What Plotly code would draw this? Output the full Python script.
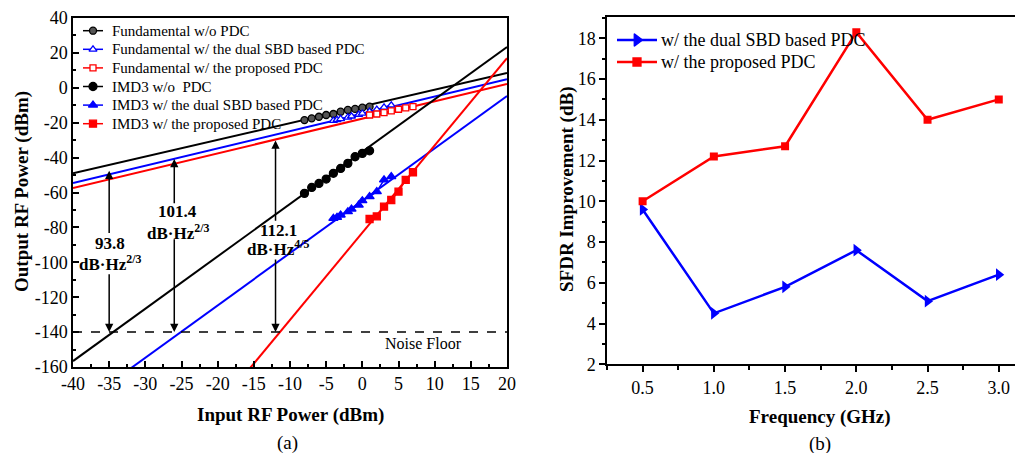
import plotly.graph_objects as go
import numpy as np

# ---------------- data: panel (a) ----------------
fund_wo_x = [-8, -7, -6, -5, -4, -3, -2, -1, 0, 1]
fund_wo_y = [-18.5, -17.5, -16.6, -15.6, -15.0, -13.7, -12.7, -12.1, -11.4, -10.8]
imd_wo_x = [-8, -7, -6, -5, -4, -3, -2, -1, 0, 1]
imd_wo_y = [-60.5, -57.1, -54.8, -52.3, -49.0, -46.2, -43.3, -39.5, -37.6, -36.1]

fund_sbd_x = [-4, -3.5, -3, -2, -1.5, -0.5, 0, 1, 2, 3, 4]
fund_sbd_y = [-18.8, -18.3, -17.8, -16.9, -16.3, -15.3, -14.7, -13.6, -12.5, -11.2, -10.0]
imd_sbd_x = [-4, -3.5, -3, -2, -1.5, -0.5, 0, 1, 2, 3, 4]
imd_sbd_y = [-74.8, -74.2, -72.9, -71.0, -69.5, -67.2, -64.7, -62.4, -59.5, -52.8, -50.9]

fund_prop_x = [1, 2, 3, 4, 5, 6, 7]
fund_prop_y = [-15.6, -15.0, -14.2, -13.2, -12.3, -11.5, -10.8]
imd_prop_x = [1, 2, 3, 4, 5, 6, 7]
imd_prop_y = [-75.2, -73.7, -68.1, -64.3, -59.5, -52.8, -48.4]

# fitted lines: (slope, intercept)
fit_fund_wo = (0.958, -10.7)
fit_fund_sbd = (0.993, -14.9)
fit_fund_prop = (0.993, -17.7)
fit_imd_wo = (3.0, -36.6)
fit_imd_sbd = (3.0, -64.7)
fit_imd_prop = (5.0, -83.0)
fit_x = [-40, 20]
noise_floor = -140

sfdr_labels = ["93.8", "101.4", "112.1"]
sfdr_units = ["dB·Hz<sup>2/3</sup>", "dB·Hz<sup>2/3</sup>", "dB·Hz<sup>4/5</sup>"]

xa_ticks = [-40, -35, -30, -25, -20, -15, -10, -5, 0, 5, 10, 15, 20]
xa_text = ["-40", "-35", "-30", "-25", "-20", "-15", "-10", "-5", "0", "5", "10", "15", "20"]
ya_ticks = [40, 20, 0, -20, -40, -60, -80, -100, -120, -140, -160]
ya_text = ["40", "20", "0", "-20", "-40", "-60", "-80", "-100", "-120", "-140", "-160"]

names_a = ["Fundamental w/o PDC", "Fundamental w/ the dual SBD based PDC",
           "Fundamental w/ the proposed PDC", "IMD3 w/o  PDC",
           "IMD3 w/ the dual SBD based PDC", "IMD3 w/ the proposed PDC"]

# ---------------- data: panel (b) ----------------
freq = [0.5, 1.0, 1.5, 2.0, 2.5, 3.0]
sfdr_sbd = [9.6, 4.5, 5.8, 7.6, 5.1, 6.4]
sfdr_prop = [10.0, 12.2, 12.7, 18.3, 14.0, 15.0]
names_b = ["w/ the dual SBD based PDC", "w/ the proposed PDC"]

# page body has an 8px margin, so the figure is offset by 8px
OFF = 8
W, H = 1023 - OFF, 453 - OFF
FONT = "Liberation Serif"
BLACK, BLUE, RED = "#000000", "#0000ff", "#ff0000"

def px(x):
    return (x - OFF) / W

def py(y):
    return 1 - (y - OFF) / H

fig = go.Figure()

def fit_line(p, color):
    xs = np.array(fit_x, dtype=float)
    fig.add_trace(go.Scatter(x=xs, y=p[0] * xs + p[1], mode="lines",
                             line=dict(color=color, width=2), showlegend=False,
                             hoverinfo="skip", xaxis="x", yaxis="y"))

for p, c in [(fit_fund_wo, BLACK), (fit_fund_sbd, BLUE), (fit_fund_prop, RED),
             (fit_imd_wo, BLACK), (fit_imd_sbd, BLUE), (fit_imd_prop, RED)]:
    fit_line(p, c)

# noise floor
fig.add_trace(go.Scatter(x=fit_x, y=[noise_floor, noise_floor], mode="lines",
                         line=dict(color=BLACK, width=1.5, dash="dash"),
                         showlegend=False, hoverinfo="skip", xaxis="x", yaxis="y"))

styles_a = [
    (BLACK, "circle", "#555555", 7),
    (BLUE, "triangle-up", "white", 7),
    (RED, "square", "white", 6),
    (BLACK, "circle", BLACK, 8),
    (BLUE, "triangle-up", BLUE, 8),
    (RED, "square", RED, 7),
]
data_a = [(fund_wo_x, fund_wo_y), (fund_sbd_x, fund_sbd_y), (fund_prop_x, fund_prop_y),
          (imd_wo_x, imd_wo_y), (imd_sbd_x, imd_sbd_y), (imd_prop_x, imd_prop_y)]

for (x, y), name, (color, symbol, fill, size) in zip(data_a, names_a, styles_a):
    fig.add_trace(go.Scatter(x=x, y=y, mode="lines+markers", name=name, showlegend=False,
                             line=dict(color=color, width=1.5),
                             marker=dict(symbol=symbol, size=size, color=fill,
                                         line=dict(color=color, width=1.3)),
                             xaxis="x", yaxis="y"))

# panel (b)
styles_b = [(BLUE, "triangle-right", 11), (RED, "square", 8)]
for yv, name, (color, symbol, size) in zip([sfdr_sbd, sfdr_prop], names_b, styles_b):
    fig.add_trace(go.Scatter(x=freq, y=yv, mode="lines+markers", name=name, showlegend=False,
                             line=dict(color=color, width=2.5),
                             marker=dict(symbol=symbol, size=size, color=color),
                             xaxis="x2", yaxis="y2"))

# ---- hand-drawn legends on a pixel-coordinate overlay subplot ----
def legend_block(names, styles, x0, x1, xt, y0, dy, fsize, lw):
    for i, (name, st) in enumerate(zip(names, styles)):
        color, symbol, fill, size = st
        yy = y0 + i * dy
        xm = (x0 + x1) / 2
        fig.add_trace(go.Scatter(x=[x0, xm, x1], y=[yy, yy, yy], mode="lines+markers",
                                 showlegend=False, hoverinfo="skip",
                                 line=dict(color=color, width=lw),
                                 marker=dict(symbol=symbol, size=size, color=fill,
                                             opacity=[0, 1, 0],
                                             line=dict(color=color, width=1.3)),
                                 xaxis="x3", yaxis="y3"))
        fig.add_annotation(x=xt, y=yy, xref="x3", yref="y3", text=name, showarrow=False,
                           xanchor="left", yanchor="middle",
                           font=dict(family=FONT, size=fsize, color="black"))

legend_block(names_a, styles_a, 83, 103, 110, 30.7, 18.6, 15, 1.5)
legend_block(names_b, [(BLUE, "triangle-right", BLUE, 11), (RED, "square", RED, 8)],
             617, 657, 659, 40, 22, 18, 2.5)

tickfont = dict(family=FONT, size=18, color="black")

def axis(tickdir, minor_dtick, **kw):
    d = dict(showgrid=False, zeroline=False, showline=True, linecolor="black",
             linewidth=1.5, ticks=tickdir, ticklen=6, tickwidth=1.5,
             tickcolor="black", tickfont=tickfont, automargin=False,
             minor=dict(dtick=minor_dtick, ticks=tickdir, ticklen=3.5,
                        tickwidth=1.5, tickcolor="black"))
    d.update(kw)
    return d

fig.update_layout(
    template="none",
    width=W, height=H, margin=dict(l=0, r=0, t=0, b=0, autoexpand=False),
    paper_bgcolor="white", plot_bgcolor="rgba(0,0,0,0)",
    font=dict(family=FONT, color="black"),
    showlegend=False,
    xaxis=axis("inside", 2.5, domain=[px(73), px(507)], range=[-40, 20],
               tickvals=xa_ticks, ticktext=xa_text, mirror=True, anchor="y"),
    yaxis=axis("inside", 10, domain=[py(367), py(18)], range=[-160, 40],
               tickvals=ya_ticks, ticktext=ya_text, mirror=True, anchor="x"),
    xaxis2=axis("outside", 0.25, domain=[px(607), 1.0], range=[0.25, 3.17],
                dtick=0.5, tick0=0.5, tickformat=".1f", mirror=True, anchor="y2"),
    yaxis2=axis("outside", 1, domain=[py(364.3), py(17.3)], range=[2, 19.03],
                dtick=2, tick0=2, mirror=False, anchor="x2"),
    xaxis3=dict(domain=[0, 1], range=[OFF, 1023], visible=False, fixedrange=True, anchor="y3"),
    yaxis3=dict(domain=[0, 1], range=[453, OFF], visible=False, fixedrange=True, anchor="x3"),
)

# double-headed arrows (two segments each) for SFDR
arrow_specs = [
    # x, top head, top tail, bottom tail, bottom head
    (-35, -47.5, -84, -106, noise_floor),
    (-26, -40.8, -67, -86, noise_floor),
    (-12, -30.2, -77, -97.5, noise_floor),
]
for xa, top_h, top_t, bot_t, bot_h in arrow_specs:
    for head, tail in [(top_h, top_t), (bot_h, bot_t)]:
        fig.add_annotation(x=xa, y=head, ax=xa, ay=tail, xref="x", yref="y",
                           axref="x", ayref="y", text="", showarrow=True,
                           arrowhead=2, arrowsize=1.1, arrowwidth=1.5, arrowcolor="black")

label_pos = [(-34.9, -89, -100.5), (-25.5, -71, -82.5), (-11.6, -81.5, -92)]
for (xl, y1, y2), t1, t2 in zip(label_pos, sfdr_labels, sfdr_units):
    fig.add_annotation(x=xl, y=y1, xref="x", yref="y", text="<b>%s</b>" % t1, showarrow=False,
                       font=dict(family=FONT, size=17, color="black"))
    fig.add_annotation(x=xl, y=y2, xref="x", yref="y", text="<b>%s</b>" % t2, showarrow=False,
                       font=dict(family=FONT, size=17, color="black"))

fig.add_annotation(x=8.4, y=-146.8, xref="x", yref="y", text="Noise Floor", showarrow=False,
                   font=dict(family=FONT, size=16, color="black"))

# axis titles and panel labels
def label(x, y, text, size=19, angle=0, bold=True):
    fig.add_annotation(x=px(x), y=py(y), xref="paper", yref="paper",
                       xanchor="center", yanchor="middle",
                       text=("<b>%s</b>" % text) if bold else text, showarrow=False,
                       textangle=angle, font=dict(family=FONT, size=size, color="black"))

label(290, 415, "Input RF Power (dBm)")
label(22, 192, "Output RF Power (dBm)", angle=-90)
label(287, 443, "(a)", bold=False)
label(820, 416.5, "Frequency (GHz)")
label(567, 190, "SFDR Improvement (dB)", angle=-90)
label(820, 444, "(b)", bold=False)

fig.write_html("out.html")
